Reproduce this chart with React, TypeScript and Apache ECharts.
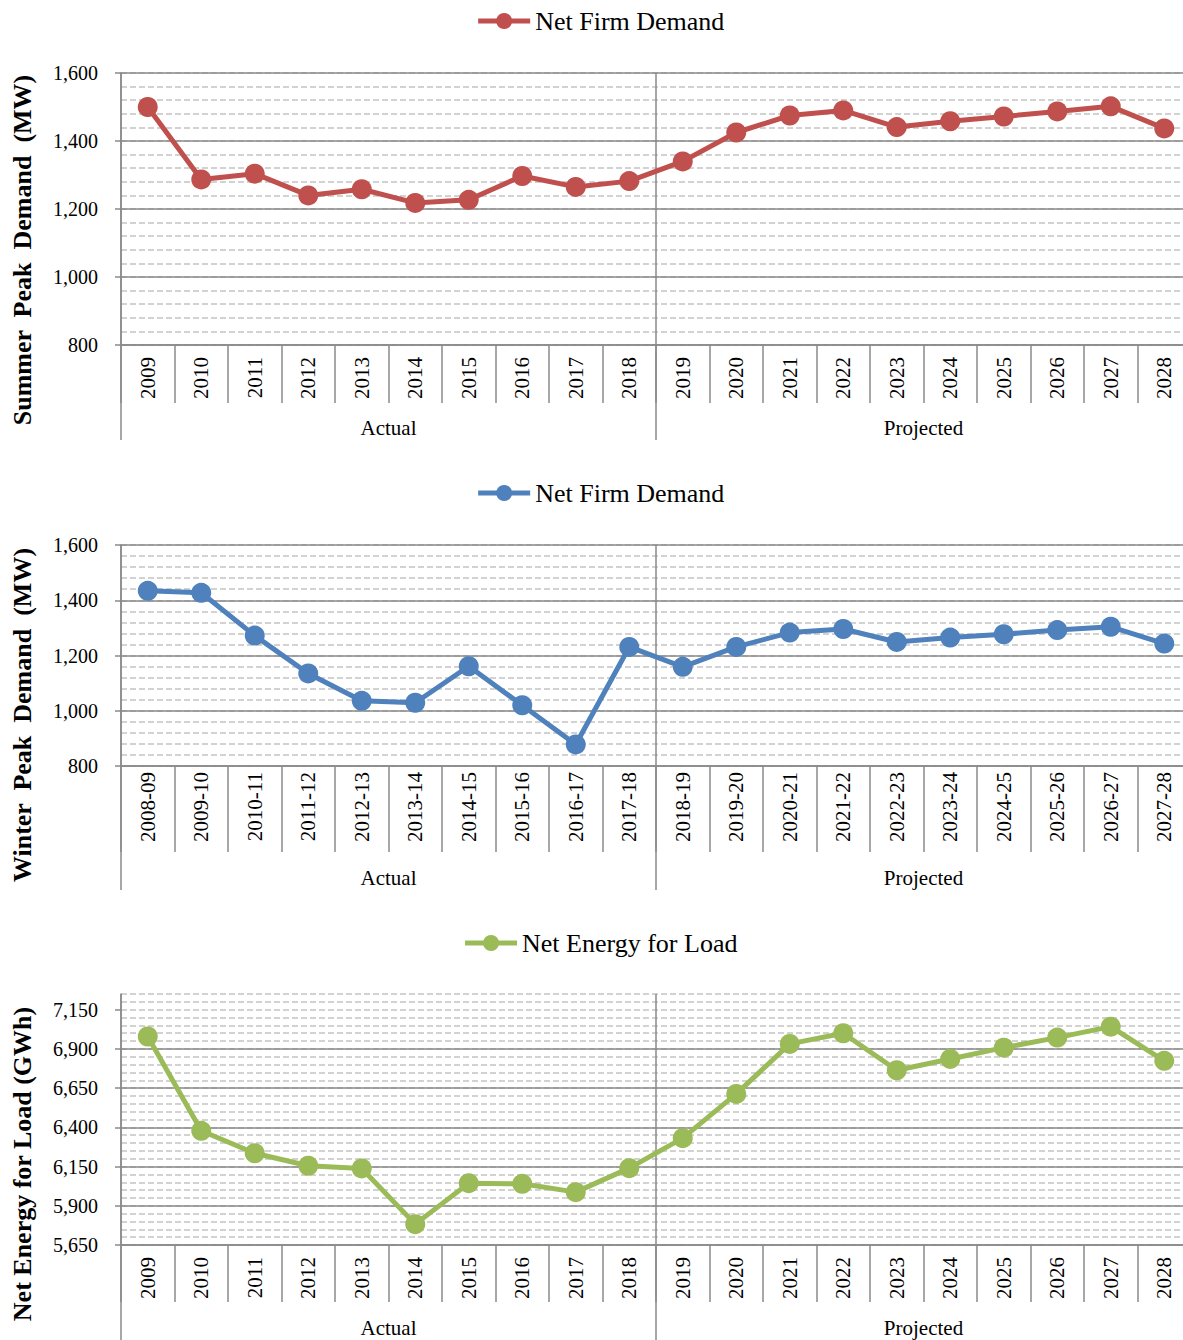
import React, { useEffect, useRef } from "react";
import * as echarts from "echarts";

const years = ["2009","2010","2011","2012","2013","2014","2015","2016","2017","2018","2019","2020","2021","2022","2023","2024","2025","2026","2027","2028"];
const winterYears = ["2008-09","2009-10","2010-11","2011-12","2012-13","2013-14","2014-15","2015-16","2016-17","2017-18","2018-19","2019-20","2020-21","2021-22","2022-23","2023-24","2024-25","2025-26","2026-27","2027-28"];
const groups = ["Actual", "Projected"];

const summerPeak = [1500,1287,1304,1240,1258,1218,1227,1297,1265,1282,1340,1425,1475,1490,1441,1458,1472,1487,1502,1437];
const winterPeak = [1434,1427,1272,1135,1036,1029,1161,1020,878,1231,1159,1231,1283,1296,1249,1265,1277,1292,1304,1243];
const netEnergy = [6979,6378,6235,6155,6138,5783,6044,6040,5987,6140,6331,6613,6932,7000,6764,6836,6908,6972,7042,6824];

const summerTicks = [800, 1000, 1200, 1400, 1600];
const winterTicks = [800, 1000, 1200, 1400, 1600];
const energyTicks = [5650, 5900, 6150, 6400, 6650, 6900, 7150];

const FONT = "'Liberation Serif', 'Times New Roman', serif";
const MAJOR = "#8a8a8a";
const MINOR = "#c3c3c3";

function panel(idx: number, cfg: any) {
  const xi = idx * 2;
  const yi = idx * 2;
  const xAxes = [
    {
      type: "category", gridIndex: idx, data: cfg.cats, position: "bottom",
      axisLine: { show: true, lineStyle: { color: MAJOR, width: 1.5 } },
      axisTick: { show: true, interval: 0, length: cfg.tickLen, lineStyle: { color: MAJOR, width: 1.5 } },
      axisLabel: { interval: 0, rotate: 90, margin: cfg.labelMargin, color: "#000", fontFamily: FONT, fontSize: 21 },
      splitLine: { show: false },
    },
    {
      type: "category", gridIndex: idx, data: groups, position: "bottom",
      axisLine: { show: false },
      axisTick: { show: true, interval: 0, length: cfg.groupLen, lineStyle: { color: MAJOR, width: 1.5 } },
      axisLabel: { interval: 0, margin: cfg.groupMargin, color: "#000", fontFamily: FONT, fontSize: 21 },
      splitLine: { show: true, interval: 0, lineStyle: { color: MAJOR, width: 1.5 } },
    },
  ];
  const yAxes = [
    {
      type: "value", gridIndex: idx, min: cfg.min, max: cfg.max, interval: cfg.major, z: 1,
      axisLine: { show: true, lineStyle: { color: MAJOR, width: 1.5 } },
      axisTick: { show: true, length: 6, customValues: cfg.ticks, lineStyle: { color: MAJOR, width: 1.5 } },
      axisLabel: {
        margin: 23, color: "#000", fontFamily: FONT, fontSize: 20,
        customValues: cfg.ticks,
        formatter: (v: number) => (cfg.ticks.indexOf(v) >= 0 ? v.toLocaleString("en-US") : ""),
      },
      splitLine: { show: true, showMaxLine: cfg.showMax, lineStyle: { color: MAJOR, width: 1.5 } },
    },
    {
      type: "value", gridIndex: idx, min: cfg.min, max: cfg.max, interval: cfg.minor, z: 0,
      axisLine: { show: false }, axisTick: { show: false }, axisLabel: { show: false },
      splitLine: { show: true, lineStyle: { color: MINOR, width: 1.5, type: [6, 3] } },
    },
  ];
  const series = {
    name: cfg.name, type: "line", xAxisIndex: xi, yAxisIndex: yi, data: cfg.data,
    symbol: "circle", symbolSize: 20, z: 5,
    lineStyle: { width: 5, color: cfg.color },
    itemStyle: { color: cfg.color },
  };
  return { xAxes, yAxes, series };
}

export default function App() {
  const ref = useRef<HTMLDivElement>(null);
  useEffect(() => {
    if (!ref.current) return;
    const chart = echarts.init(ref.current, null, { renderer: "svg" });
    const p1 = panel(0, { cats: years, tickLen: 58, labelMargin: 12, groupLen: 95, groupMargin: 72, min: 800, max: 1600, major: 200, minor: 40, ticks: summerTicks, showMax: true, name: "Net Firm Demand", data: summerPeak, color: "#C0504D" });
    const p2 = panel(1, { cats: winterYears, tickLen: 86, labelMargin: 6, groupLen: 124, groupMargin: 101, min: 800, max: 1600, major: 200, minor: 40, ticks: winterTicks, showMax: true, name: "Winter Net Firm Demand", data: winterPeak, color: "#4F81BD" });
    const p3 = panel(2, { cats: years, tickLen: 57, labelMargin: 12, groupLen: 100, groupMargin: 72, min: 5650, max: 7250, major: 250, minor: 50, ticks: energyTicks, showMax: false, name: "Net Energy for Load", data: netEnergy, color: "#9BBB59" });
    const legendBase = {
      left: "center", padding: 0, itemWidth: 52, itemHeight: 20, selectedMode: false,
      lineStyle: { width: 5 },
      textStyle: { color: "#000", fontFamily: FONT, fontSize: 26 },
    };
    const yTitle = (text: string, y: number) => ({
      type: "text", x: 22, y, rotation: Math.PI / 2,
      style: { text, align: "center", verticalAlign: "middle", fill: "#000", font: `bold 26px ${FONT}` },
    });
    chart.setOption({
      animation: false,
      backgroundColor: "#fff",
      grid: [
        { left: 121, top: 73, width: 1070, height: 272 },
        { left: 121, top: 545, width: 1070, height: 221 },
        { left: 121, top: 994, width: 1070, height: 251 },
      ],
      legend: [
        { ...legendBase, top: 8, data: ["Net Firm Demand"] },
        { ...legendBase, top: 480, data: ["Winter Net Firm Demand"], formatter: () => "Net Firm Demand" },
        { ...legendBase, top: 930, data: ["Net Energy for Load"] },
      ],
      xAxis: [...p1.xAxes, ...p2.xAxes, ...p3.xAxes],
      yAxis: [...p1.yAxes, ...p2.yAxes, ...p3.yAxes],
      series: [p1.series, p2.series, p3.series],
      graphic: [
        yTitle("Summer  Peak  Demand  (MW)", 250),
        yTitle("Winter  Peak  Demand  (MW)", 715),
        yTitle("Net Energy for Load (GWh)", 1164),
      ],
    });
    return () => chart.dispose();
  }, []);
  return (
    <div style={{ position: "fixed", left: 0, top: 0, width: 1183, height: 1340, overflow: "hidden", background: "#fff" }}>
      <div ref={ref} style={{ width: 1200, height: 1340 }} />
    </div>
  );
}
